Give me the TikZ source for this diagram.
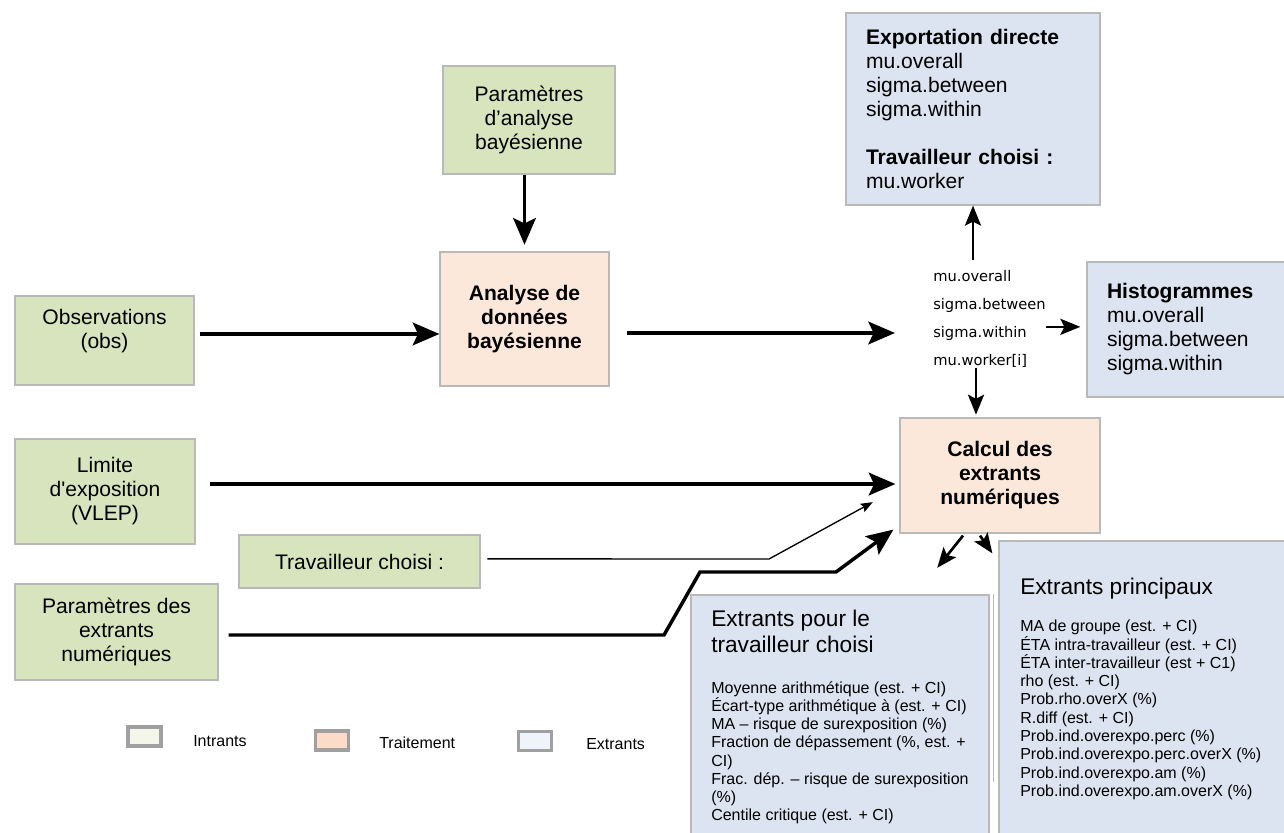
\documentclass[tikz,border=0pt]{standalone}
\usepackage{fontspec}
\setmainfont{Liberation Sans}
\newfontfamily\dejavu{DejaVu Sans}
\usetikzlibrary{arrows.meta}
\definecolor{ColIn}{RGB}{216,228,189}
\definecolor{ColProc}{RGB}{252,232,218}
\definecolor{ColOut}{RGB}{219,228,240}
\definecolor{ColBorder}{RGB}{185,185,185}
\definecolor{ColLegIn}{RGB}{243,246,233}
\definecolor{ColLegProc}{RGB}{252,220,200}
\definecolor{ColLegOut}{RGB}{239,244,251}
\definecolor{ColLegBorder}{RGB}{160,160,160}
\tikzstyle{BoxBase}=[rectangle,draw=ColBorder,line width=0.9pt,inner sep=0pt,
font=\fontsize{15.8}{18}\selectfont]
\tikzstyle{InBox}=[BoxBase,fill=ColIn,align=center]
\tikzstyle{ProcBox}=[BoxBase,fill=ColProc,align=center,font=\fontsize{15.8}{18}\selectfont\bfseries]
\tikzstyle{OutBox}=[BoxBase,fill=ColOut,align=left,inner xsep=15pt]
\tikzstyle{BigArrow}=[line width=2.6pt,-{Stealth[length=20pt,width=17pt,inset=4pt]}]
\tikzstyle{MidArrow}=[line width=2pt,-{Stealth[length=15pt,width=12pt,inset=3pt]}]
\tikzstyle{ThinArrow}=[line width=1pt,-{Stealth[length=9pt,width=7pt,inset=1.5pt]}]
\tikzstyle{ParamText}=[inner sep=0pt,align=left,font=\dejavu\fontsize{11}{21}\selectfont]
\tikzstyle{TitleText}=[inner sep=0pt,align=left,anchor=north west,font=\fontsize{17}{19}\selectfont]
\tikzstyle{ListText}=[inner sep=0pt,align=left,anchor=north west,font=\fontsize{12}{13.7}\selectfont]
\tikzstyle{LegendBox}=[rectangle,draw=ColLegBorder,line width=2.6pt,minimum width=25pt,
minimum height=14.5pt,inner sep=0pt]
\tikzstyle{LegendText}=[inner sep=0pt,anchor=west,font=\fontsize{12}{14}\selectfont]

\begin{document}
\begin{tikzpicture}[x=0.75pt,y=-0.75pt]
        \useasboundingbox(0,0)rectangle(1284,832);
        \clip(0,0)rectangle(1284,832);
        \node[InBox,minimum width=129pt,minimum height=81pt](panalyse)at(529,120){Paramètres\\d’analyse\\bayésienne};
        \node[InBox,minimum width=134.25pt,minimum height=66.75pt](obs)at(104.5,340.5){Observations\\(obs)\\\mbox{}};
        \node[InBox,minimum width=135pt,minimum height=78.75pt](limite)at(105,491.5){Limite\\d\textquotesingle exposition\\(VLEP)};
        \node[InBox,minimum width=180.75pt,minimum height=39.75pt](travail)at(359.5,561.5){Travailleur choisi :};
        \node[InBox,minimum width=152.25pt,minimum height=72pt](pextr)at(116.5,632){Paramètres des\\extrants\\numériques};
        \node[ProcBox,minimum width=126.75pt,minimum height=100.5pt](analyse)at(524.5,319){Analyse de\\données\\bayésienne};
        \node[ProcBox,minimum width=150pt,minimum height=86.25pt](calcul)at(1000,475.5){Calcul des\\extrants\\numériques};
        \node[OutBox,text width=160.5pt,minimum height=144pt](export)at(973,109){\textbf{Exportation directe}\\mu.overall\\sigma.between\\sigma.within\\[18pt]\textbf{Travailleur choisi :}\\mu.worker};
        \node[OutBox,text width=129.75pt,minimum height=101.25pt](histo)at(1193.5,329.5){\textbf{Histogrammes}\\mu.overall\\sigma.between\\sigma.within};
        \node[OutBox,minimum width=223.5pt,minimum height=198.75pt](extrav)at(840,727.5){};
        \node[OutBox,minimum width=225.75pt,minimum height=239.25pt](exprinc)at(1149.5,700.5){};
        \draw[ColBorder,line width=0.9pt]([xshift=3pt]extrav.north east)--([xshift=3pt,yshift=-141pt]extrav.north east);
        \node[ParamText,anchor=north west](params)at(933,270){mu.overall\\sigma.between\\sigma.within\\mu.worker[i]};
        \node[TitleText](extravtitre)at(711,610){Extrants pour le\\travailleur choisi};
        \node[ListText](extravliste)at(711,681){Moyenne arithmétique (est. + CI)\\Écart-type arithmétique à (est. + CI)\\MA – risque de surexposition (\%)\\Fraction de dépassement (\%, est. +\\CI)\\Frac. dép. – risque de surexposition\\(\%)\\Centile critique (est. + CI)};
        \node[TitleText](exprinctitre)at(1020,578){Extrants principaux};
        \node[ListText](exprincliste)at(1020,620){MA de groupe (est. + CI)\\ÉTA intra-travailleur (est. + CI)\\ÉTA inter-travailleur (est + C1)\\rho (est. + CI)\\Prob.rho.overX (\%)\\R.diff (est. + CI)\\Prob.ind.overexpo.perc (\%)\\Prob.ind.overexpo.perc.overX (\%)\\Prob.ind.overexpo.am (\%)\\Prob.ind.overexpo.am.overX (\%)};
        \draw[BigArrow](panalyse.south -| analyse.north)--([yshift=5pt]analyse.north);
        \draw[BigArrow]([xshift=3.75pt,yshift=4.9pt]obs.east)--([yshift=4.9pt]obs.east -| analyse.west);
        \draw[BigArrow]([xshift=12.75pt,yshift=-10.5pt]analyse.east)--([xshift=-28.5pt,yshift=-10.5pt]analyse.east -| params.west);
        \draw[MidArrow]([yshift=7.5pt]params.north -| export.south)--(export.south);
        \draw[MidArrow]([yshift=2pt]params.east |- histo.west)--([xshift=-4.5pt,yshift=2pt]histo.west);
        \draw[MidArrow]([xshift=-18pt]calcul.north |- params.south)--([xshift=-18pt,yshift=2pt]calcul.north);
        \draw[BigArrow]([xshift=10.5pt,yshift=5.6pt]limite.east)--([xshift=-3pt,yshift=5.6pt]limite.east -| calcul.west);
        \draw[ThinArrow]([xshift=5pt,yshift=2pt]travail.east)--(769,559)--([xshift=-20pt,yshift=-20pt]calcul.west);
        \draw[BigArrow]([xshift=7.5pt,yshift=-2.25pt]pextr.east)--(664,635)--(700,572)--(836,572)--([xshift=-4.5pt,yshift=3pt]calcul.south west);
        \draw[MidArrow,shorten >=25.5pt]([xshift=-27.75pt,yshift=-1.5pt]calcul.south)--([xshift=57pt]extrav.north);
        \draw[MidArrow]([xshift=-15pt,yshift=-1.5pt]calcul.south)--([xshift=-4.5pt,yshift=-9.75pt]exprinc.north west);
        \node[LegendBox,fill=ColLegIn](legin)at(144.5,736.5){};
        \node[LegendText](legintxt)at(193,741){Intrants};
        \node[LegendBox,fill=ColLegProc](legproc)at(332,740.5){};
        \node[LegendText](legproctxt)at(379,743){Traitement};
        \node[LegendBox,fill=ColLegOut](legout)at(535,741){};
        \node[LegendText](legouttxt)at(586,744){Extrants};
    \end{tikzpicture}
\end{document}
